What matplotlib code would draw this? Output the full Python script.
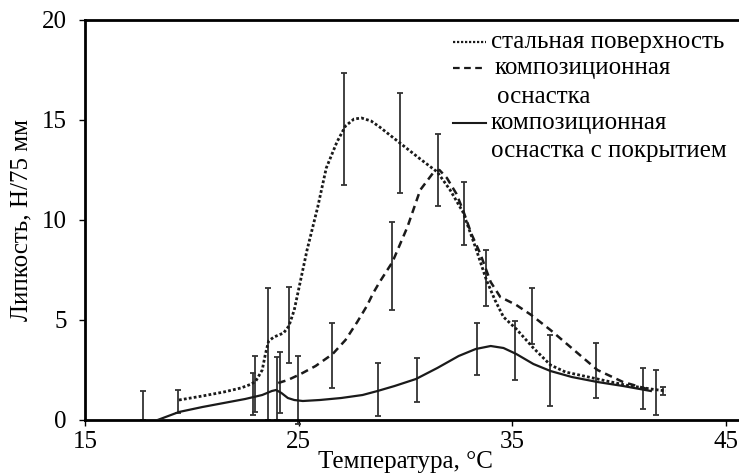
import matplotlib
matplotlib.use("Agg")
import matplotlib.pyplot as plt

# ---- data ----
steel_x = [19.4, 20.5, 21.5, 22.3, 22.8, 23.0, 23.3, 23.45, 23.6, 23.85, 24.3, 24.55, 24.8, 25.1, 25.4,
           25.9, 26.3, 26.8, 27.2, 27.6, 27.95, 28.4, 28.8, 29.75, 30.7, 31.5, 32.1, 32.7, 33.3,
           33.8, 34.2, 34.6, 35.2, 36.0, 36.8, 37.5, 39.0, 40.3, 41.5, 42.2]
steel_y = [1.0, 1.2, 1.4, 1.6, 1.8, 1.95, 2.5, 3.3, 3.95, 4.15, 4.35, 4.7, 5.5, 7.0, 8.5,
           10.65, 12.6, 13.9, 14.7, 15.05, 15.1, 14.95, 14.65, 13.85, 13.05, 12.4, 11.5, 10.4, 8.6,
           7.0, 6.0, 5.15, 4.55, 3.6, 2.75, 2.4, 2.05, 1.75, 1.55, 1.45]

comp_x = [24.05, 24.5, 25.1, 25.8, 26.6, 27.2, 27.75, 28.2, 28.5, 28.8, 29.4, 30.1, 30.7, 31.3,
          31.6, 31.95, 32.4, 32.7, 33.1, 33.5, 34.0, 34.45, 35.2, 35.9, 36.8, 37.9, 39.0, 40.2, 41.5]
comp_y = [1.85, 2.0, 2.3, 2.7, 3.3, 4.0, 4.9, 5.7, 6.35, 6.9, 7.9, 9.65, 11.5, 12.35,
          12.5, 12.1, 11.3, 10.5, 9.3, 8.35, 6.9, 6.15, 5.75, 5.25, 4.5, 3.5, 2.5, 1.9, 1.5]

coat_x = [18.4, 19.4, 20.5, 21.5, 22.5, 23.3, 23.75, 23.95, 24.2, 24.5, 24.8, 25.2, 26.0, 27.0,
          28.0, 28.7, 29.5, 30.5, 31.5, 32.5, 33.3, 34.0, 34.6, 35.2, 36.0, 36.8, 37.8, 39.0,
          40.2, 41.5]
coat_y = [0.0, 0.4, 0.65, 0.85, 1.05, 1.25, 1.45, 1.5, 1.35, 1.1, 1.0, 0.95, 1.0, 1.1,
          1.25, 1.45, 1.7, 2.05, 2.6, 3.2, 3.55, 3.7, 3.6, 3.3, 2.8, 2.45, 2.15, 1.9,
          1.7, 1.45]

err_x = [17.72, 19.36, 22.87, 22.96, 23.57, 23.99, 24.13, 24.55, 24.98, 26.57, 27.13, 29.75,
         29.38, 28.72, 30.55, 33.36, 33.78, 31.53, 32.75, 35.94, 35.14, 36.78, 38.93, 41.14,
         41.74, 42.07]
err_lo = [0.0, 0.35, 0.25, 0.4, 0.0, 0.0, 0.35, 2.85, -0.2, 1.6, 11.75, 11.35,
          5.5, 0.2, 0.9, 2.25, 5.7, 10.7, 8.75, 3.8, 2.0, 0.7, 1.1, 0.55,
          0.25, 1.25]
err_hi = [1.45, 1.5, 2.35, 3.2, 6.6, 3.15, 3.4, 6.65, 3.2, 4.85, 17.35, 16.35,
          9.9, 2.85, 3.1, 4.85, 8.5, 14.3, 11.9, 6.6, 4.95, 4.25, 3.85, 2.6,
          2.5, 1.65]

x_ticks = [15, 25, 35, 45]
y_ticks = [0, 5, 10, 15, 20]

legend_labels = ["стальная поверхность", "композиционная", "оснастка",
                 "композиционная", "оснастка с покрытием"]

# ---- figure ----
plt.rcParams['font.family'] = ['Liberation Serif', 'DejaVu Serif']
FS = 18
fig = plt.figure(figsize=(7.39, 4.75), dpi=100)
ax = fig.add_axes([85/739, 1-420/475, 1-85/739, 400/475])

col = '#1a1a1a'
ax.vlines(err_x, err_lo, err_hi, color='#333333', lw=1.3, zorder=2, clip_on=False)
ax.plot(err_x, err_lo, ls='none', marker='_', ms=5, mew=1.3, color='#333333', clip_on=False)
ax.plot(err_x, err_hi, ls='none', marker='_', ms=5, mew=1.3, color='#333333', clip_on=False)

ax.plot(steel_x, steel_y, color=col, lw=2.0, ls=(0, (1, 0.8)), zorder=3)
ax.plot(comp_x, comp_y, color=col, lw=1.8, ls=(0, (3, 2)), zorder=3)
ax.plot(coat_x, coat_y, color=col, lw=1.6, ls='-', zorder=3)

ax.set_xlim(15, 45.63)
ax.set_ylim(0, 20)
ax.set_xticks(x_ticks)
ax.set_yticks(y_ticks)
ax.tick_params(direction='out', length=4, width=1, labelsize=FS, colors='black')
ax.tick_params(axis='x', pad=4)
ax.tick_params(axis='y', pad=9)
for s in ['left', 'top', 'bottom']:
    ax.spines[s].set_linewidth(2)
ax.spines['right'].set_visible(False)

fig.text(405/739, 1-462/475, 'Температура, °C', fontsize=FS, ha='center', va='center')
fig.text(21/739, 1-220/475, 'Липкость, Н/75 мм', fontsize=FS, ha='center', va='center',
         rotation=90)

# legend (custom)
def axx(px):
    return (px - 85) / 654
def axy(py):
    return (420 - py) / 400

styles = [(0, (1, 0.8)), (0, (3, 2)), None, '-', None]
rows_py = [42, 68, 97, 123, 151]
text_px = [491, 495, 497, 491, 491]
for lab, st, py, tx in zip(legend_labels, styles, rows_py, text_px):
    if st is not None:
        ax.plot([axx(453), axx(486)], [axy(py), axy(py)], transform=ax.transAxes,
                color=col, lw=1.5 if st == '-' else 1.6, ls=st)
    ax.text(axx(tx), axy(py), lab, transform=ax.transAxes, fontsize=FS,
            va='center', ha='left')

fig.savefig('out.png', dpi=100)
